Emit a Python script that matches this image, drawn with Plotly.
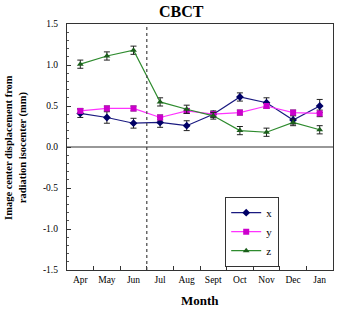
import plotly.graph_objects as go

months = ["Apr", "May", "Jun", "Jul", "Aug", "Sept", "Oct", "Nov", "Dec", "Jan"]
x_vals = [0.41, 0.36, 0.29, 0.30, 0.26, 0.40, 0.61, 0.54, 0.33, 0.50]
x_err = [0.05, 0.07, 0.06, 0.06, 0.06, 0.04, 0.05, 0.06, 0.05, 0.08]
y_vals = [0.44, 0.47, 0.47, 0.36, 0.44, 0.40, 0.42, 0.50, 0.42, 0.41]
y_err = [0.03, 0.03, 0.03, 0.03, 0.03, 0.03, 0.03, 0.03, 0.03, 0.04]
z_vals = [1.01, 1.11, 1.18, 0.55, 0.46, 0.38, 0.20, 0.18, 0.30, 0.21]
z_err = [0.05, 0.05, 0.05, 0.05, 0.05, 0.04, 0.05, 0.05, 0.04, 0.05]

FONT = "Liberation Serif"
fig = go.Figure()

series = [
    ("x", x_vals, x_err, "#1a1a80", "#000066", "diamond", 6),
    ("y", y_vals, y_err, "#ff33ff", "#cc00cc", "square", 6),
    ("z", z_vals, z_err, "#2e8b2e", "#1b5e1b", "triangle-up", 6),
]
for name, vals, err, lc, mc, sym, ms in series:
    fig.add_trace(go.Scatter(
        x=months, y=vals, name=name, mode="lines+markers",
        line=dict(color=lc, width=1.2),
        marker=dict(symbol=sym, size=ms, color=mc),
        error_y=dict(type="data", array=err, visible=True, color="#222222", thickness=1, width=3),
    ))

fig.add_shape(type="line", xref="x", yref="paper", x0=2.5, x1=2.5, y0=0, y1=1,
              line=dict(color="#444444", width=1.2, dash="dot"))
fig.add_shape(type="line", xref="paper", yref="y", x0=0, x1=1, y0=0, y1=0,
              line=dict(color="#333333", width=1.2))

fig.add_annotation(text="<b>Image center displacement from<br>radiation isocenter (mm)</b>",
                   xref="paper", yref="paper", x=-0.192, y=0.5, textangle=-90,
                   showarrow=False, xanchor="center", yanchor="middle",
                   font=dict(family=FONT, size=10.5, color="black"))
fig.add_annotation(text="<b>Month</b>", xref="paper", yref="paper", x=0.5, y=-0.122,
                   showarrow=False, xanchor="center", yanchor="middle",
                   font=dict(family=FONT, size=13, color="black"))

fig.update_layout(
    width=338, height=313,
    margin=dict(l=67, r=5, t=24, b=43),
    paper_bgcolor="white", plot_bgcolor="white",
    font=dict(family=FONT, size=10, color="black"),
    title=dict(text="<b>CBCT</b>", font=dict(family=FONT, size=16, color="black"),
               xref="container", x=0.536, xanchor="center", y=0.962, yanchor="middle"),
    showlegend=True,
    legend=dict(x=0.594, y=0.297, xanchor="left", yanchor="top",
                bordercolor="#333333", borderwidth=1.2, bgcolor="white",
                font=dict(family=FONT, size=11), tracegroupgap=0, itemwidth=30),
    xaxis=dict(
        type="category", range=[-0.5, 9.5], tickson="boundaries",
        ticks="inside", ticklen=4, tickcolor="#333333", tickangle=0,
        showline=True, linecolor="#333333", linewidth=1.2, mirror=True,
        showgrid=False, zeroline=False, automargin=False,
        tickfont=dict(family=FONT, size=9.5),
    ),
    yaxis=dict(
        range=[-1.5, 1.5], tickvals=[-1.5, -1.0, -0.5, 0.0, 0.5, 1.0, 1.5],
        ticktext=["-1.5", "-1.0", "-0.5", "0.0", "0.5", "1.0", "1.5"],
        ticks="inside", ticklen=4, tickcolor="#333333",
        minor=dict(dtick=0.1, ticks="inside", ticklen=2, tickcolor="#555555"),
        showline=True, linecolor="#333333", linewidth=1.2, mirror=True,
        showgrid=False, zeroline=False, automargin=False,
        tickfont=dict(family=FONT, size=9.5), ticklabelstandoff=6,
    ),
)

fig.write_html("out.html", config={"displayModeBar": False},
               post_script="document.body.style.margin='0';document.body.style.overflow='hidden';")
